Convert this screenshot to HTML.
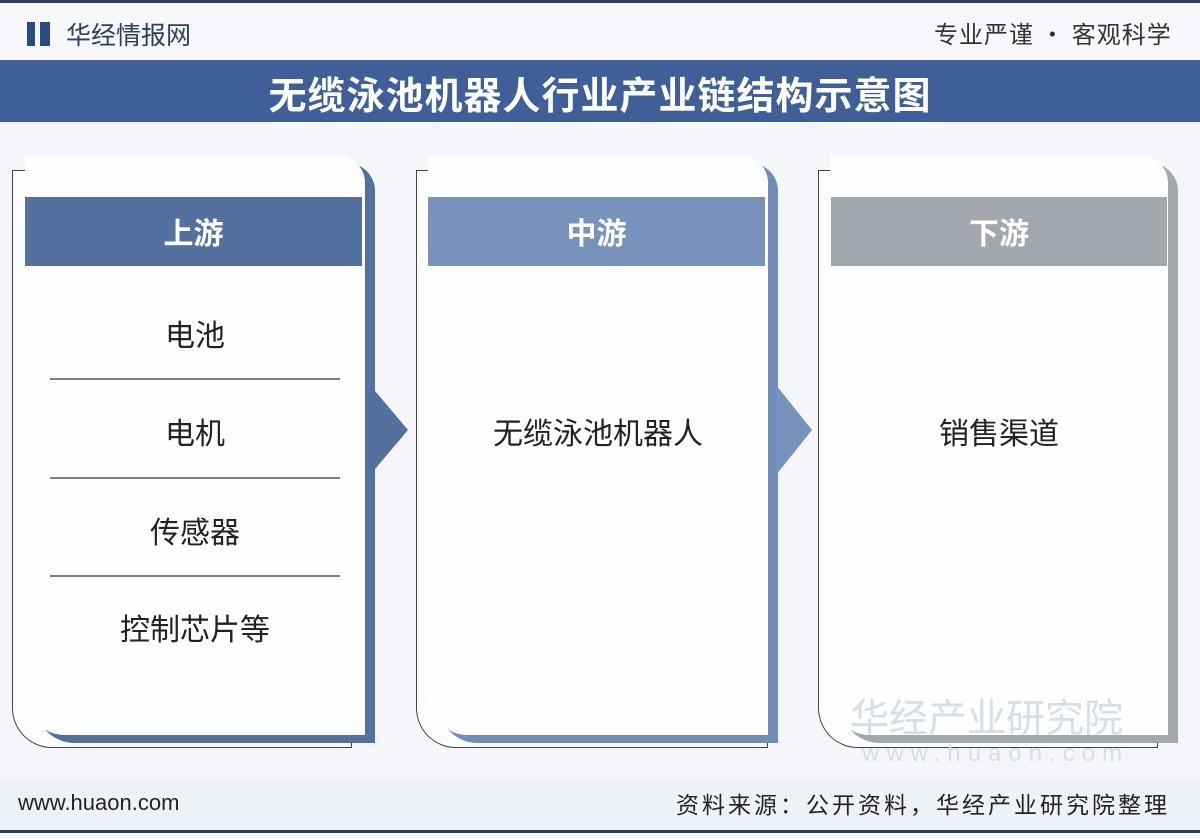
<!DOCTYPE html>
<html><head><meta charset="utf-8"><style>
body{margin:0;width:1200px;height:839px;background:#f4f6fa;position:relative;overflow:hidden;font-family:"Liberation Sans","Noto Sans CJK SC",sans-serif}
.a{position:absolute}
.ob{position:absolute;border:1.5px solid #444;background:#fbfcfe}
.card{position:absolute;background:#fdfeff;border-radius:0 28px 0 40px}
.hd{position:absolute;height:69px;color:#fff;font-weight:bold;font-size:30px;text-align:center;line-height:69px;font-family:"Noto Sans CJK SC",sans-serif}
.t{position:absolute;text-align:center;font-size:30px;color:#222;font-family:"Noto Sans CJK SC",sans-serif}
.ln{position:absolute;height:2px;background:#7a7f88}
</style></head><body>
<div class="a" style="left:0;top:0;width:1200px;height:60px;background:#f6f8fb;border-top:3px solid #2b3f63"></div>
<div class="a" style="left:27px;top:22px;width:8px;height:24px;background:#2a4a86"></div>
<div class="a" style="left:40px;top:22px;width:10px;height:24px;background:#2a4a86"></div>
<div class="a" style="left:66px;top:16px;font-size:25px;color:#2d3e63;font-family:'Noto Sans CJK SC',sans-serif">华经情报网</div>
<div class="a" style="left:934px;top:15px;font-size:24px;color:#333;letter-spacing:1px;font-family:'Noto Sans CJK SC',sans-serif">专业严谨 • 客观科学</div>
<div class="a" style="left:0;top:60px;width:1200px;height:62px;background:#3e5f98"></div>
<div class="a" style="left:0;top:65px;width:1200px;text-align:center;font-size:38px;font-weight:bold;color:#fff;font-family:'Noto Sans CJK SC',sans-serif;letter-spacing:1px">无缆泳池机器人行业产业链结构示意图</div>

<div class="ob" style="left:12px;top:170px;width:338px;height:576px;border-radius:0 0 0 40px"></div>
<div class="ob" style="left:416px;top:170px;width:350px;height:576px;border-radius:0 0 0 40px"></div>
<div class="ob" style="left:818px;top:170px;width:338px;height:576px;border-radius:0 0 0 40px"></div>

<div class="card" style="left:25px;top:155px;width:340px;height:580px;box-shadow:10px 8px 0 #53709f"></div>
<div class="card" style="left:428px;top:155px;width:340px;height:580px;box-shadow:10px 8px 0 #6f8db8"></div>
<div class="card" style="left:830px;top:155px;width:338px;height:580px;box-shadow:10px 8px 0 #a3a7ae"></div>

<div class="hd" style="left:25px;top:197px;width:337px;background:#53709f">上游</div>
<div class="hd" style="left:428px;top:197px;width:337px;background:#7793bb">中游</div>
<div class="hd" style="left:831px;top:197px;width:336px;background:#a3a6ac">下游</div>

<svg class="a" style="left:370px;top:385px" width="45" height="90"><polygon points="0,0 38,45 0,90" fill="#53709f"/></svg>
<svg class="a" style="left:776px;top:385px" width="45" height="90"><polygon points="0,0 36,45 0,90" fill="#7793bb"/></svg>

<div class="t" style="left:25px;top:311px;width:340px">电池</div>
<div class="ln" style="left:50px;top:378px;width:290px"></div>
<div class="t" style="left:25px;top:409px;width:340px">电机</div>
<div class="ln" style="left:50px;top:477px;width:290px"></div>
<div class="t" style="left:25px;top:508px;width:340px">传感器</div>
<div class="ln" style="left:50px;top:575px;width:290px"></div>
<div class="t" style="left:25px;top:605px;width:340px">控制芯片等</div>
<div class="t" style="left:428px;top:409px;width:340px">无缆泳池机器人</div>
<div class="t" style="left:830px;top:409px;width:338px">销售渠道</div>

<div class="a" style="left:850px;top:688px;font-size:39px;color:#d8dde6;font-family:'Noto Sans CJK SC',sans-serif">华经产业研究院</div>
<div class="a" style="left:862px;top:740px;font-size:24px;color:#d8dde6;letter-spacing:7px">www.huaon.com</div>

<div class="a" style="left:0;top:780px;width:1200px;height:50px;background:#eef1f6;border-bottom:3px solid #2b3f63"></div>
<div class="a" style="left:18px;top:790px;font-size:22px;color:#222">www.huaon.com</div>
<div class="a" style="left:676px;top:786px;font-size:23px;color:#222;letter-spacing:3px;font-family:'Noto Sans CJK SC',sans-serif">资料来源：公开资料，华经产业研究院整理</div>
</body></html>
